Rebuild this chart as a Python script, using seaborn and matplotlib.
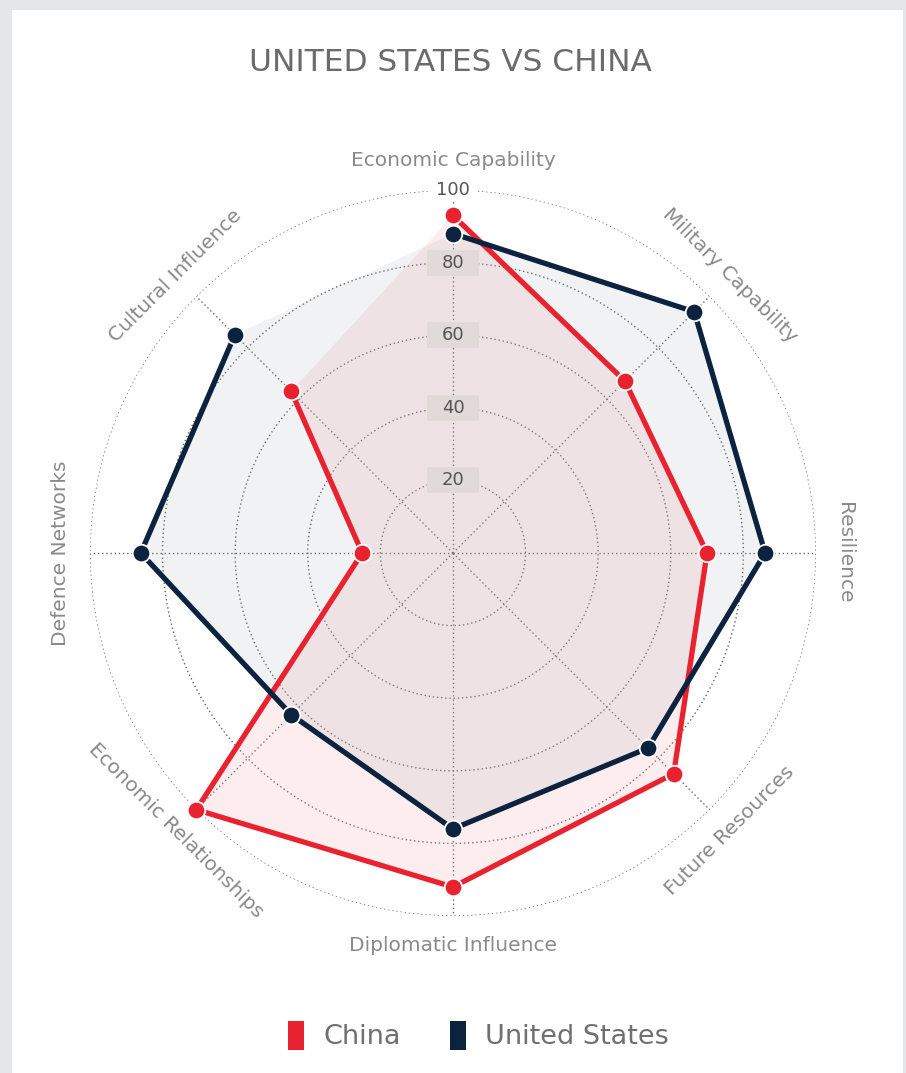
import numpy as np
import pandas as pd
import matplotlib
matplotlib.use("Agg")
import matplotlib.pyplot as plt
from matplotlib.patches import Patch, Rectangle
from matplotlib.path import Path
import seaborn as sns

categories = ["Economic Capability", "Military Capability", "Resilience",
              "Future Resources", "Diplomatic Influence", "Economic Relationships",
              "Defence Networks", "Cultural Influence"]
china = [93, 67, 70, 86, 92, 100, 25, 63]
united_states = [88, 94, 86, 76, 76, 63, 86, 85]
ring_ticks = [20, 40, 60, 80, 100]
series_names = ["China", "United States"]

RED = "#e8232f"
NAVY = "#0c2340"

sns.set_theme(style="white")
plt.rcParams["font.family"] = ["DejaVu Sans"]

fig = plt.figure(figsize=(9.06, 10.73), dpi=100)
fig.patch.set_facecolor("#e5e6e8")
fig.patches.append(Rectangle((12 / 906, 0), (903 - 12) / 906, (1073 - 10) / 1073,
                             transform=fig.transFigure, facecolor="white",
                             edgecolor="none", zorder=-10))

ax = fig.add_axes([0.0993, 0.1463, 0.8013, 0.6766], projection="polar")
ax.set_zorder(1)
ax.set_facecolor("none")
ax.set_theta_zero_location("N")
ax.set_theta_direction(-1)

n = len(categories)
angles = np.linspace(0, 2 * np.pi, n, endpoint=False)

def closed(vals):
    return list(vals) + [vals[0]]

theta_c = closed(angles)
df = pd.concat([
    pd.DataFrame({"theta": theta_c, "value": closed(china), "country": "China"}),
    pd.DataFrame({"theta": theta_c, "value": closed(united_states), "country": "United States"}),
])

# fills
ax.fill(theta_c, closed(china), color="#f4a0a5", alpha=0.18, zorder=1, linewidth=0)
ax.fill(theta_c, closed(united_states), color="#98a4b4", alpha=0.14, zorder=1.1, linewidth=0)

palette = {"China": RED, "United States": NAVY}
for i, name in enumerate(series_names):
    sub = df[df["country"] == name]
    sns.lineplot(data=sub, x="theta", y="value", sort=False, color=palette[name],
                 linewidth=3.8, ax=ax, zorder=3 + i, legend=False)
    pts = sub.iloc[:-1]
    sns.scatterplot(data=pts, x="theta", y="value", color=palette[name], s=160,
                    edgecolor="white", linewidth=1.3, ax=ax, zorder=3.5 + i, legend=False)
for coll in ax.collections:
    coll.set_clip_on(False)
for line in ax.lines:
    line.set_clip_on(False)

ax.set_ylim(0, 100)
ax.set_xlabel("")
ax.set_ylabel("")
ax.set_xticks(angles)
ax.set_xticklabels([])
ax.set_yticks(ring_ticks)
ax.set_yticklabels([])
ax.grid(True, color="#666666", linestyle=(0, (1, 2)), linewidth=1.0)
ax.spines["polar"].set_visible(False)
ax.tick_params(pad=0)


def wide_box(padx, pady):
    def style(x0, y0, width, height, mutation_size):
        x0 -= padx
        y0 -= pady
        x1 = x0 + width + 2 * padx
        y1 = y0 + height + 2 * pady
        return Path([(x0, y0), (x1, y0), (x1, y1), (x0, y1), (x0, y0)], closed=True)
    return style


# radial labels
for t in ring_ticks:
    if t == 100:
        bb = dict(boxstyle=wide_box(6, 3), facecolor="white", edgecolor="none")
    else:
        bb = dict(boxstyle=wide_box(15, 4), facecolor="#e2d9d9", edgecolor="none")
    ax.text(0, t, str(t), ha="center", va="center", fontsize=13, color="#555555",
            bbox=bb, zorder=2.5)

# category labels tangent to circle
for ang, lab in zip(angles, categories):
    deg = np.degrees(ang)
    if deg <= 90 or deg >= 270:
        rot = -deg
    else:
        rot = 180 - deg
    ax.text(ang, 108, lab, ha="center", va="center", rotation=rot,
            rotation_mode="anchor", fontsize=14.5, color="#8a8a8a")

fig.text(0.497, 0.942, "UNITED STATES VS CHINA", ha="center", va="center",
         fontsize=22.5, color="#6b6b6b")

handles = [Patch(facecolor=RED, edgecolor="none", label="China"),
           Patch(facecolor=NAVY, edgecolor="none", label="United States")]
fig.legend(handles=handles, loc="center", bbox_to_anchor=(0.528, 0.035), ncol=2,
           frameon=False, fontsize=19.5, handlelength=0.62, handleheight=1.3,
           handletextpad=0.7, columnspacing=1.8, labelcolor="#707070")

fig.savefig("out.png", dpi=100)
